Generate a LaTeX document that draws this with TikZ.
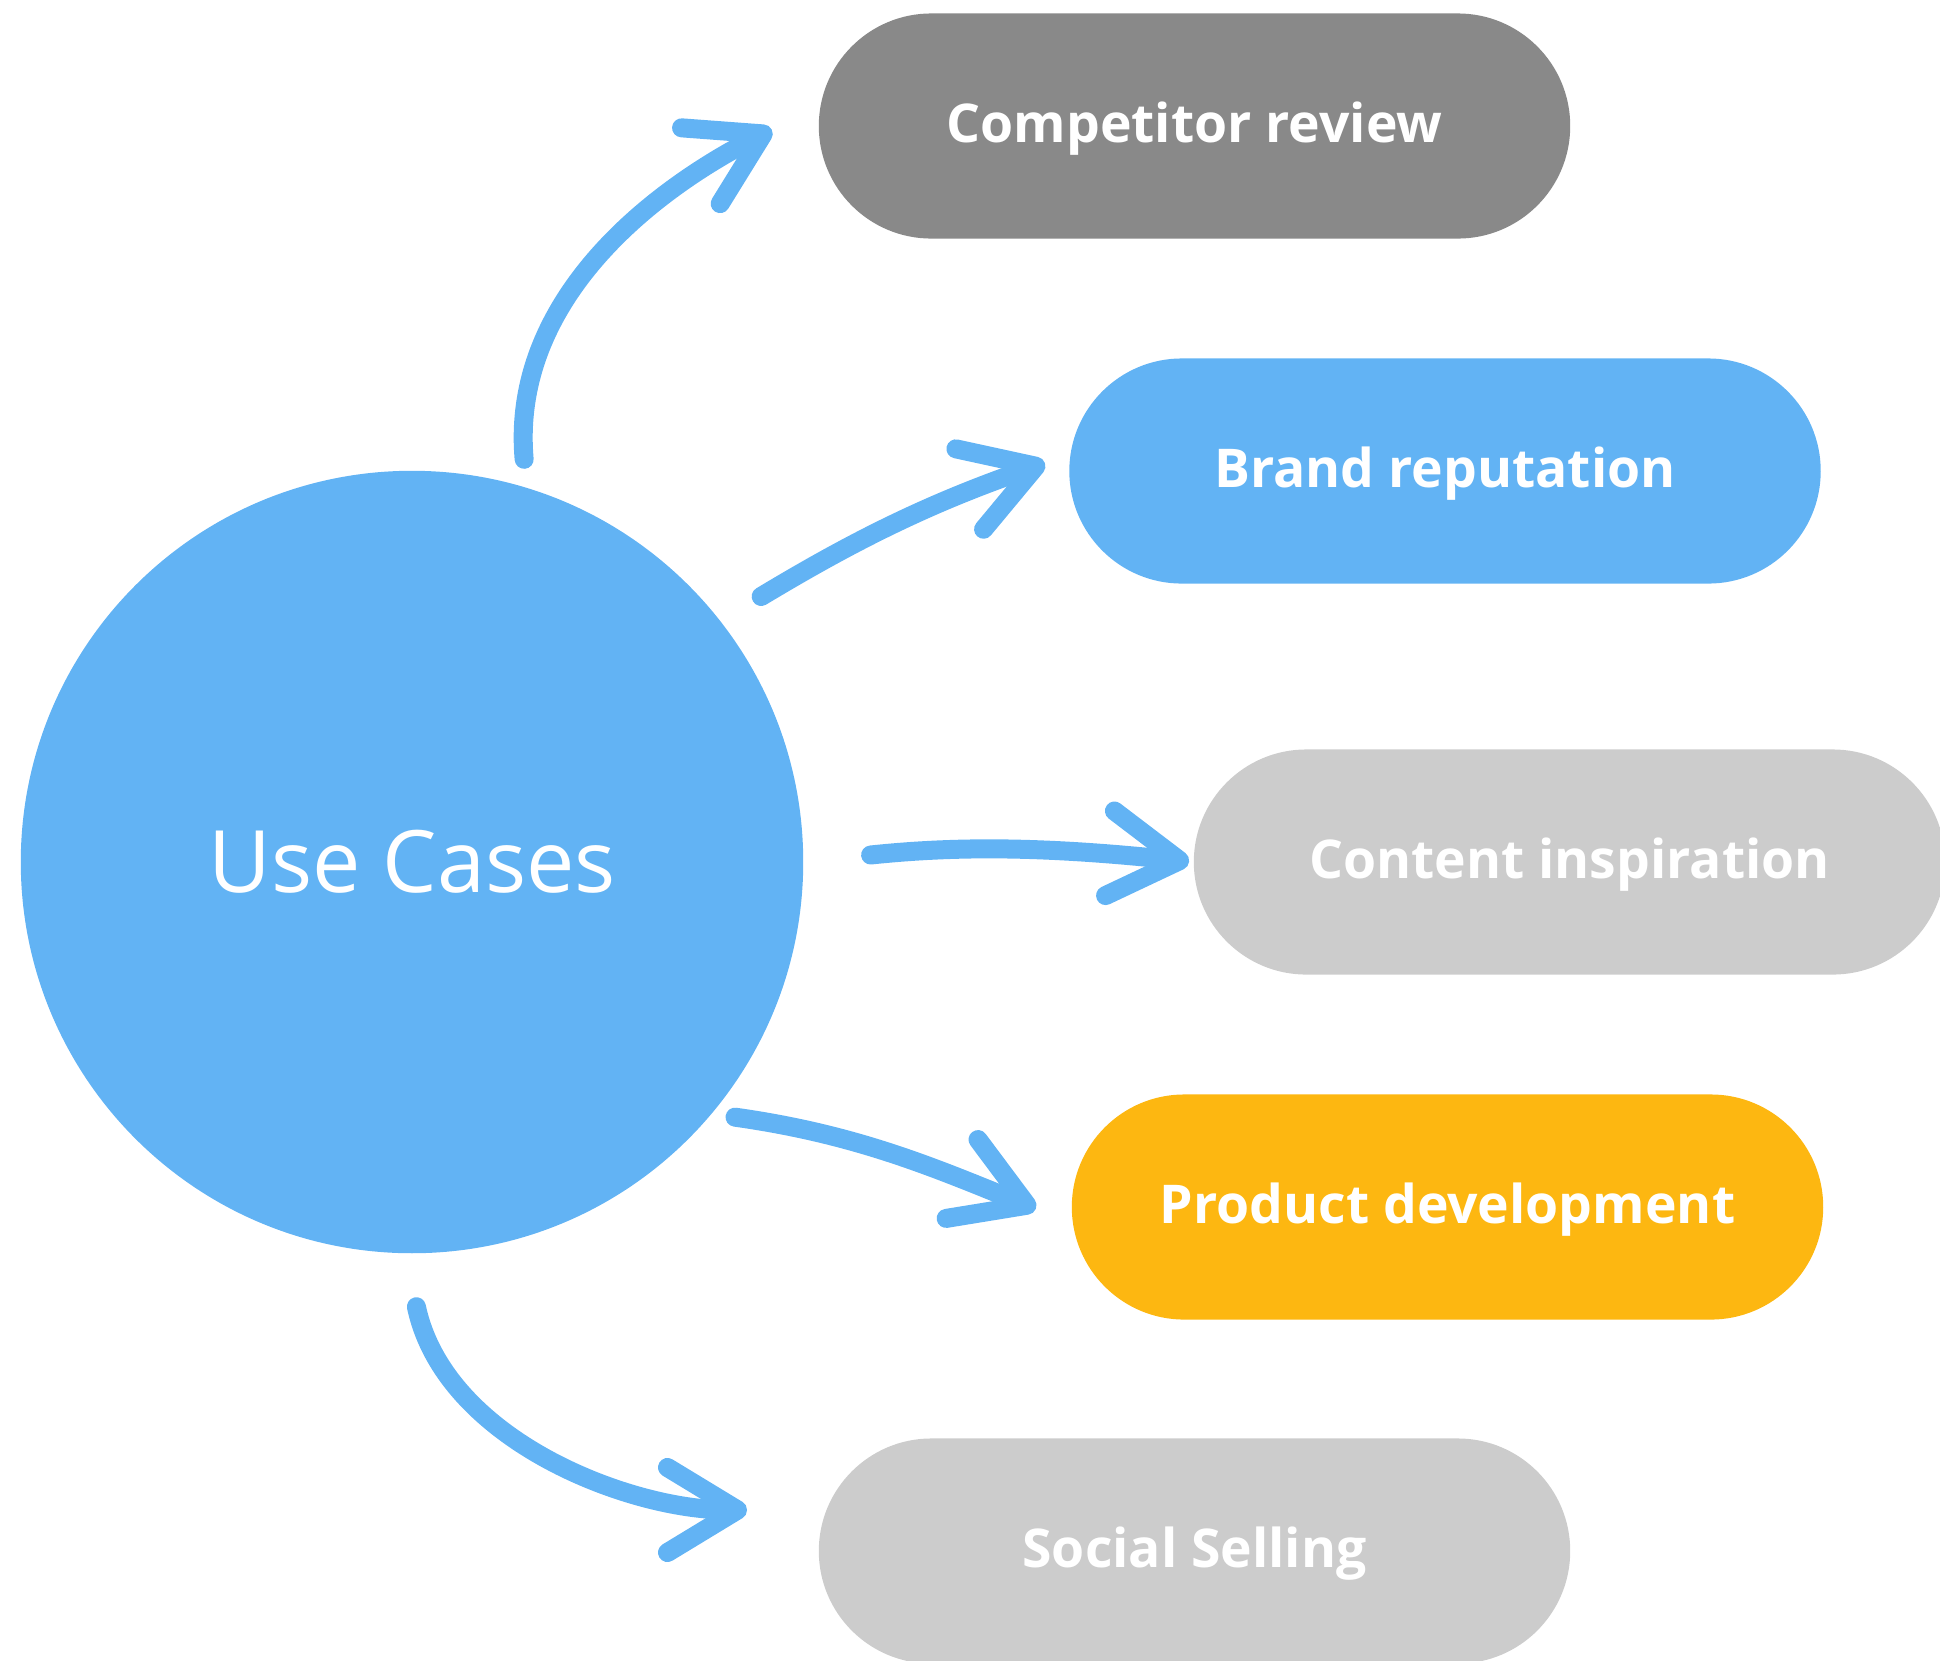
\documentclass[tikz,border=0pt]{standalone}
\usepackage{fontspec}
\setmainfont{Open Sans}
\usetikzlibrary{arrows.meta}
\definecolor{skyblue}{HTML}{62B3F4}
\definecolor{stonegray}{HTML}{898989}
\definecolor{palegray}{HTML}{CCCCCC}
\definecolor{amber}{HTML}{FDB711}
\begin{document}
\begin{tikzpicture}[x=0.01cm,y=0.01cm,
  pill/.style={rounded corners=1.125cm,minimum width=7.51cm,minimum height=2.25cm,
    text height=0.94em,text depth=0pt,
    text=white,font=\fontsize{15.2}{18}\selectfont\bfseries},
  usearrow/.style={draw=skyblue,line width=0.19cm,line cap=round,
    -{Straight Barb[length=0.7cm,width=0.85cm,round]}}]
\useasboundingbox (0,0) rectangle (1940,-1660);
\clip (0,0) rectangle (1940,-1660);
\node[circle,fill=skyblue,minimum size=7.82cm,text=white,
  font=\fontsize{24.5}{28}\selectfont] (use) at (412,-862) {Use Cases};
\node[pill,fill=stonegray] (comp) at (1194.5,-126) {Competitor review};
\node[pill,fill=skyblue] (brand) at (1445,-471) {Brand reputation};
\node[pill,fill=palegray] (content) at (1569.5,-862) {Content inspiration};
\node[pill,fill=amber] (product) at (1447.5,-1207) {Product development};
\node[pill,fill=palegray] (social) at (1194.5,-1551) {Social Selling};
\draw[usearrow,shorten <=0.28cm,shorten >=0.52cm] (use.73) to[out=95,in=207] ([yshift=0.2cm]comp.west);
\draw[usearrow,shorten <=0.47cm,shorten >=0.25cm] (use.38) to[out=31,in=199] ([yshift=0.16cm]brand.west);
\draw[usearrow,shorten <=0.67cm,shorten >=0.04cm] (use.0) to[out=6,in=174] (content.west);
\draw[usearrow,shorten <=0.23cm,shorten >=0.38cm] (use.-40) to[out=-8,in=158] ([yshift=-0.16cm]product.west);
\draw[usearrow,shorten <=0.54cm,shorten >=0.71cm] (use.-91) to[out=-78,in=180] ([yshift=0.41cm]social.west);
\end{tikzpicture}
\end{document}
